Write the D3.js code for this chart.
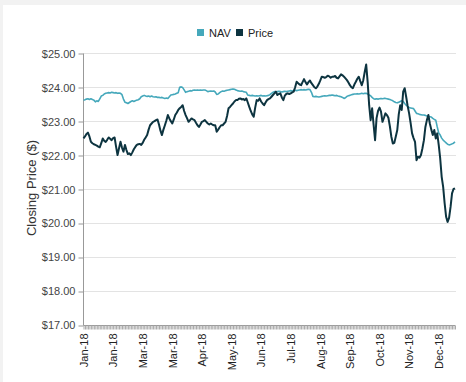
<!DOCTYPE html>
<html>
	<head>
		<meta charset="utf-8">
		<title>NAV vs Price</title>
	</head>
	<body>
		<svg id="chart" width="466" height="382"></svg>
	</body>

	<script src="https://cdn.jsdelivr.net/npm/d3@7/dist/d3.min.js"></script>
	<script>
		// series, one value per trading day
		const navValues = [
			23.62, 23.63, 23.65, 23.66, 23.64, 23.66, 23.64, 23.62, 23.57, 23.60,
			23.58, 23.66, 23.74, 23.76, 23.80, 23.82, 23.83, 23.84, 23.83, 23.85,
			23.84, 23.83, 23.84, 23.82, 23.83, 23.82, 23.78, 23.65, 23.56, 23.54,
			23.52, 23.55, 23.58, 23.60, 23.58, 23.60, 23.62, 23.63, 23.66, 23.72,
			23.74, 23.76, 23.74, 23.73, 23.74, 23.72, 23.74, 23.72, 23.71, 23.72,
			23.70, 23.70, 23.69, 23.70, 23.68, 23.67, 23.68, 23.67, 23.72, 23.77,
			23.78, 23.79, 23.80, 23.82, 23.84, 24.00, 24.01, 23.99, 23.92, 23.85,
			23.87, 23.88, 23.90, 23.89, 23.91, 23.92, 23.91, 23.92, 23.91, 23.92,
			23.91, 23.92, 23.92, 23.90, 23.87, 23.88, 23.89, 23.88, 23.89, 23.86,
			23.79, 23.80, 23.84, 23.87, 23.89, 23.88, 23.90, 23.91, 23.92, 23.93,
			23.94, 23.95, 23.94, 23.92, 23.90, 23.89, 23.88, 23.89, 23.87, 23.86,
			23.85, 23.77, 23.76, 23.75, 23.76, 23.75, 23.74, 23.75, 23.74, 23.75,
			23.76, 23.74, 23.75, 23.74, 23.75, 23.76, 23.78, 23.82, 23.85, 23.87,
			23.86, 23.87, 23.88, 23.87, 23.86, 23.87, 23.88, 23.87, 23.88, 23.89,
			23.90, 23.89, 23.90, 23.91, 23.90, 23.91, 23.92, 23.93, 23.92, 23.93,
			23.92, 23.93, 23.94, 23.93, 23.85, 23.73, 23.72, 23.73, 23.72, 23.71,
			23.72, 23.73, 23.74, 23.75, 23.74, 23.75, 23.76, 23.76, 23.77, 23.76,
			23.75, 23.76, 23.74, 23.73, 23.72, 23.70, 23.67, 23.69, 23.73, 23.75,
			23.76, 23.78, 23.79, 23.80, 23.80, 23.81, 23.80, 23.81, 23.82, 23.81,
			23.82, 23.82, 23.80, 23.77, 23.75, 23.70, 23.66, 23.65, 23.66, 23.65,
			23.66, 23.67, 23.66, 23.67, 23.67, 23.66, 23.65, 23.64, 23.62, 23.60,
			23.57, 23.55, 23.54, 23.56, 23.58, 23.60, 23.58, 23.52, 23.47, 23.44,
			23.40, 23.39, 23.38, 23.37, 23.30, 23.23, 23.22, 23.20, 23.19, 23.18,
			23.18, 23.17, 23.15, 23.14, 23.13, 23.12, 23.08, 23.05, 23.03, 22.83,
			22.65, 22.59, 22.50, 22.44, 22.40, 22.36, 22.32, 22.30, 22.31, 22.33,
			22.35, 22.39
		];

		const priceValues = [
			22.49, 22.55, 22.62, 22.66, 22.55, 22.39, 22.35, 22.32, 22.30, 22.28,
			22.25, 22.23, 22.35, 22.49, 22.42, 22.39, 22.45, 22.52, 22.48, 22.44,
			22.50, 22.52, 22.25, 22.00, 22.20, 22.39, 22.22, 22.10, 22.30, 22.15,
			22.03, 22.05, 22.00, 22.08, 22.17, 22.24, 22.30, 22.32, 22.33, 22.30,
			22.36, 22.45, 22.52, 22.59, 22.75, 22.88, 22.93, 22.98, 23.00, 23.03,
			23.05, 22.90, 22.72, 22.59, 22.75, 22.88, 23.02, 23.18, 23.08, 23.00,
			22.93, 23.05, 23.18, 23.25, 23.33, 23.38, 23.42, 23.47, 23.30, 23.18,
			23.08, 22.98, 23.03, 23.08, 23.05, 23.03, 22.95, 22.88, 22.83, 22.90,
			22.98, 23.00, 23.03, 22.98, 22.93, 22.90, 22.93, 22.90, 22.88, 22.88,
			22.69, 22.75, 22.82, 22.88, 22.88, 22.93, 22.98, 23.15, 23.38, 23.42,
			23.47, 23.52, 23.58, 23.62, 23.62, 23.66, 23.67, 23.64, 23.65, 23.62,
			23.67, 23.55, 23.42, 23.30, 23.20, 23.13, 23.40, 23.62, 23.60, 23.67,
			23.58, 23.52, 23.47, 23.55, 23.62, 23.65, 23.67, 23.72, 23.77, 23.82,
			23.87, 23.77, 23.80, 23.82, 23.70, 23.62, 23.75, 23.80, 23.82, 23.80,
			23.82, 23.85, 23.87, 24.00, 24.16, 24.12, 24.08, 24.06, 24.15, 24.24,
			24.15, 24.08, 24.15, 24.20, 24.12, 24.06, 24.00, 23.97, 24.02, 24.10,
			24.20, 24.31, 24.30, 24.28, 24.30, 24.34, 24.32, 24.28, 24.31, 24.31,
			24.33, 24.28, 24.26, 24.32, 24.38, 24.35, 24.31, 24.26, 24.21, 24.14,
			24.06, 24.00, 23.97, 24.08, 24.16, 24.25, 24.31, 24.18, 24.06, 24.20,
			24.45, 24.67, 24.15, 23.47, 23.03, 23.38, 22.90, 22.44, 23.09, 23.30,
			23.40, 23.28, 22.98, 23.10, 23.23, 23.18, 23.10, 22.85, 22.54, 22.34,
			22.36, 22.55, 22.74, 23.20, 23.47, 23.33, 23.87, 23.97, 23.72, 23.45,
			23.23, 22.95, 22.64, 22.50, 22.39, 21.85, 21.95, 21.92, 22.00, 22.20,
			22.44, 22.83, 23.03, 23.18, 22.93, 22.75, 22.59, 22.74, 22.49, 22.64,
			22.30, 21.90, 21.36, 21.06, 20.58, 20.18, 20.03, 20.15, 20.47, 20.87,
			21.00, 21.02
		];

		// a label sits under every 20th day
		const tickLabels = ["Jan-18", "Jan-18", "Mar-18", "Mar-18", "Apr-18", "May-18", "Jun-18",
			"Jul-18", "Aug-18", "Sep-18", "Oct-18", "Nov-18", "Dec-18"];
		const labelEvery = 20;

		const yTicks = [17, 18, 19, 20, 21, 22, 23, 24, 25];

		const seriesNames = ["NAV", "Price"];
		const seriesColors = ["#45a8bb", "#0d3440"];

		const svg = d3.select("#chart");
		const plotLeft = 83.5, plotRight = 455, plotTop = 53.3, plotBottom = 324.7;

		// white panel over the grey page
		svg.append("rect").attr("width", 466).attr("height", 382).attr("fill", "#f2f2f2");
		svg.append("rect").attr("x", 3).attr("y", 5).attr("width", 463).attr("height", 377).attr("fill", "#fff");

		const x = d3.scalePoint()
			.domain(d3.range(priceValues.length))
			.range([plotLeft, plotRight]);

		const y = d3.scaleLinear()
			.domain([17, 25])
			.range([plotBottom, plotTop]);

		// grid lines
		svg.append("g")
			.selectAll("line")
			.data(yTicks)
			.enter().append("line")
				.attr("x1", plotLeft).attr("x2", plotRight + 1)
				.attr("y1", d => Math.round(y(d)) + 0.5)
				.attr("y2", d => Math.round(y(d)) + 0.5)
				.attr("stroke", "#e3e3e3");

		// y axis
		const yAxis = svg.append("g")
			.attr("transform", `translate(${Math.round(plotLeft) - 0.5},0.5)`)
			.call(d3.axisLeft(y).tickValues(yTicks).tickSize(5).tickPadding(3)
				.tickFormat(d => "$" + d.toFixed(2)));
		yAxis.select(".domain").attr("stroke", "#999")
			.attr("d", `M0,${Math.round(plotTop)}V${Math.round(plotBottom)}`);
		yAxis.selectAll(".tick line").attr("stroke", "#999")
			.attr("transform", d => `translate(0,${Math.round(y(d)) - y(d)})`);
		yAxis.selectAll("text")
			.attr("fill", "#444")
			.style("font", "11px 'Liberation Sans', Arial, sans-serif");

		// x axis, one tick per day
		const xAxis = svg.append("g")
			.attr("transform", `translate(0,${Math.round(plotBottom) + 0.5})`)
			.call(d3.axisBottom(x).tickSize(4)
				.tickFormat(i => i % labelEvery === 0 ? tickLabels[i / labelEvery] : ""));
		xAxis.select(".domain").attr("stroke", "#999").attr("d", `M${plotLeft},0H${plotRight}`);
		xAxis.selectAll(".tick line").attr("stroke", "#aaa");
		xAxis.selectAll("text")
			.attr("fill", "#222")
			.attr("transform", "rotate(-90)")
			.attr("x", -8)
			.attr("y", 0)
			.attr("dy", "0.35em")
			.attr("text-anchor", "end")
			.style("font", "11px 'Liberation Sans', Arial, sans-serif");

		// y axis title
		svg.append("text")
			.attr("transform", "translate(36,188) rotate(-90)")
			.attr("text-anchor", "middle")
			.attr("fill", "#333")
			.style("font", "13px 'Liberation Sans', Arial, sans-serif")
			.text("Closing Price ($)");

		// lines
		const line = d3.line()
			.x((d, i) => x(i))
			.y(d => y(d));

		[navValues, priceValues].forEach((values, k) => {
			svg.append("path")
				.datum(values)
				.attr("fill", "none")
				.attr("stroke", seriesColors[k])
				.attr("stroke-width", k === 0 ? 1.6 : 2)
				.attr("stroke-linejoin", "round")
				.attr("d", line);
		});

		// legend
		const legend = svg.append("g").attr("transform", "translate(197,29)");
		const legendX = [0, 39];
		seriesNames.forEach((name, k) => {
			legend.append("rect")
				.attr("x", legendX[k]).attr("y", 0)
				.attr("width", 7).attr("height", 7)
				.attr("fill", seriesColors[k]);
			legend.append("text")
				.attr("x", legendX[k] + 12).attr("y", 7.5)
				.attr("fill", "#222")
				.style("font", "11px 'Liberation Sans', Arial, sans-serif")
				.text(name);
		});
	</script>

	<style>
		html, body
		{
			margin: 0;
			overflow: hidden;
		}

		svg
		{
			display: block;
		}
	</style>
</html>
